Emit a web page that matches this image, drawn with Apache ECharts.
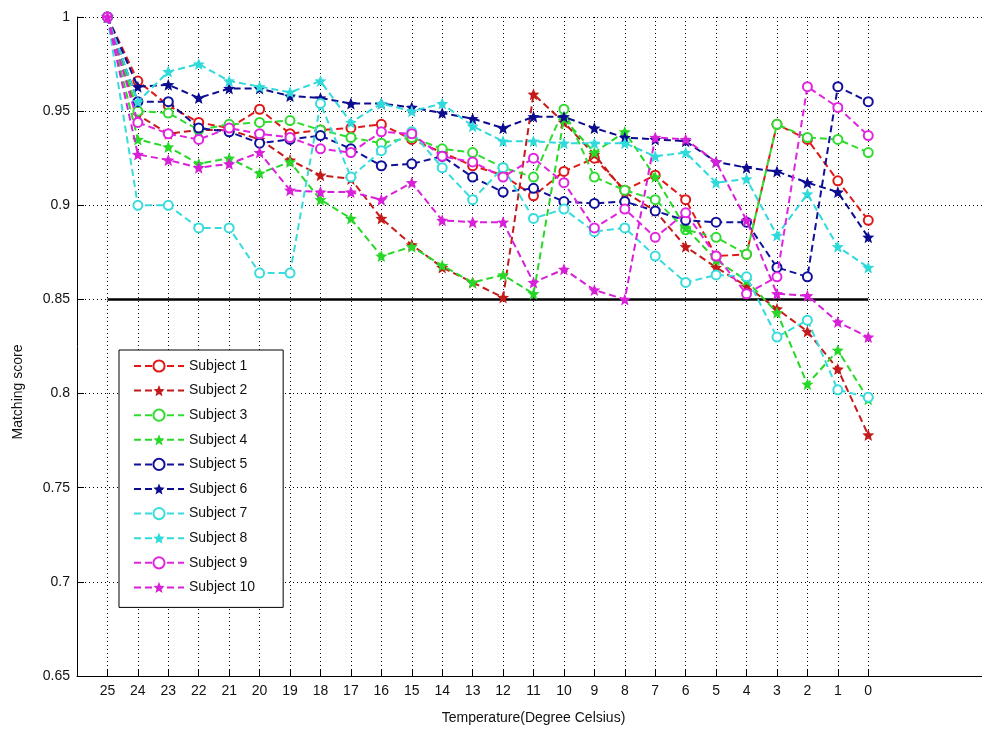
<!DOCTYPE html>
<html>
<head>
<meta charset="utf-8">
<script src="https://cdn.jsdelivr.net/npm/echarts@6/dist/echarts.min.js"></script>
<style>html,body{margin:0;padding:0;background:#fff}#c{width:982px;height:729px}</style>
</head>
<body>
<div id="c"></div>
<script>
// Temperatures (degree Celsius), plotted left to right
var temps = [25,24,23,22,21,20,19,18,17,16,15,14,13,12,11,10,9,8,7,6,5,4,3,2,1,0];
var yTicks = [0.65,0.7,0.75,0.8,0.85,0.9,0.95,1];
var threshold = 0.85;

var s1  = [1,0.966,0.953,0.944,0.941,0.951,0.938,0.940,0.941,0.943,0.935,0.928,0.921,0.916,0.905,0.918,0.925,0.908,0.916,0.903,0.873,0.874,0.943,0.935,0.913,0.892];
var s2  = [1,0.948,0.938,0.940,0.940,0.935,0.924,0.916,0.914,0.893,0.879,0.867,0.859,0.851,0.959,0.944,0.927,0.907,0.897,0.878,0.867,0.857,0.845,0.833,0.813,0.778];
var s3  = [1,0.950,0.949,0.940,0.943,0.944,0.945,0.940,0.936,0.933,0.936,0.930,0.928,0.920,0.915,0.951,0.915,0.908,0.903,0.887,0.883,0.874,0.943,0.936,0.935,0.928];
var s4  = [1,0.935,0.931,0.922,0.925,0.917,0.923,0.903,0.893,0.873,0.878,0.868,0.859,0.863,0.853,0.946,0.928,0.939,0.915,0.888,0.871,0.860,0.843,0.805,0.823,0.797];
var s5  = [1,0.955,0.955,0.941,0.939,0.933,0.935,0.937,0.930,0.921,0.922,0.926,0.915,0.907,0.909,0.902,0.901,0.902,0.897,0.892,0.891,0.891,0.867,0.862,0.963,0.955];
var s6  = [1,0.963,0.964,0.957,0.962,0.962,0.958,0.957,0.954,0.954,0.952,0.949,0.946,0.941,0.947,0.947,0.941,0.936,0.935,0.934,0.923,0.920,0.918,0.912,0.907,0.883];
var s7  = [1,0.900,0.900,0.888,0.888,0.864,0.864,0.954,0.915,0.929,0.939,0.920,0.903,0.920,0.893,0.898,0.886,0.888,0.873,0.859,0.863,0.862,0.830,0.839,0.802,0.798];
var s8  = [1,0.955,0.971,0.975,0.966,0.963,0.960,0.966,0.944,0.954,0.950,0.954,0.942,0.934,0.934,0.933,0.933,0.933,0.926,0.928,0.912,0.914,0.884,0.906,0.878,0.867];
var s9  = [1,0.944,0.938,0.935,0.941,0.938,0.936,0.930,0.928,0.939,0.938,0.926,0.923,0.915,0.925,0.912,0.888,0.898,0.883,0.896,0.873,0.853,0.862,0.963,0.952,0.937];
var s10 = [1,0.927,0.924,0.920,0.922,0.928,0.908,0.907,0.907,0.903,0.912,0.892,0.891,0.891,0.859,0.866,0.855,0.850,0.936,0.935,0.923,0.892,0.853,0.852,0.838,0.830];

var names = ['Subject 1','Subject 2','Subject 3','Subject 4','Subject 5','Subject 6','Subject 7','Subject 8','Subject 9','Subject 10'];
var values = [s1,s2,s3,s4,s5,s6,s7,s8,s9,s10];
var colors = ['#e01818','#c41a1a','#30dc30','#28d828','#10109a','#0c0c90','#38dcdc','#30dada','#e024e0','#d820d8'];
var markers = ['o','*','o','*','o','*','o','*','o','*'];

// category axis: one empty slot before 25 and four after 0
var cats = [''].concat(temps.map(String)).concat(['','','','']);
var starPath = 'path://M0,-10 L2.6,-3.6 L9.5,-3.1 L4.2,1.4 L5.9,8.1 L0,4.4 L-5.9,8.1 L-4.2,1.4 L-9.5,-3.1 L-2.6,-3.6 Z';
var FONT = 'Liberation Sans, Arial, sans-serif';
var hasLabel = function (i, v) { return v !== ''; };

var series = values.map(function (arr, k) {
  var isStar = markers[k] === '*';
  return {
    name: names[k],
    type: 'line',
    data: arr.map(function (v, i) { return [i + 1, v]; }),
    symbol: isStar ? starPath : 'emptyCircle',
    symbolSize: isStar ? 12 : 9,
    showAllSymbol: true,
    lineStyle: { color: colors[k], width: 2, type: [7, 4] },
    itemStyle: { color: colors[k], borderColor: colors[k], borderWidth: isStar ? 0 : 1.6 },
    emphasis: { disabled: true },
    animation: false,
    z: 2 + k
  };
});
series.push({
  name: 'threshold',
  type: 'line',
  data: [[1, threshold], [temps.length, threshold]],
  symbol: 'none',
  lineStyle: { color: '#000', width: 2.5, type: 'solid' },
  animation: false,
  z: 1
});

var chart = echarts.init(document.getElementById('c'), null, { renderer: 'canvas' });
chart.setOption({
  backgroundColor: '#fff',
  animation: false,
  grid: { left: 77, top: 17, right: -8, bottom: 53, outerBoundsMode: 'none', containLabel: false },
  legend: {
    data: names,
    orient: 'vertical',
    left: 119,
    top: 350,
    itemWidth: 50,
    itemHeight: 14,
    itemGap: 10.6,
    padding: [9, 28, 13, 14],
    backgroundColor: '#fff',
    borderColor: '#000',
    borderWidth: 1,
    borderRadius: 0,
    textStyle: { fontFamily: FONT, fontSize: 14, color: '#111' },
    z: 20
  },
  xAxis: {
    type: 'category',
    data: cats,
    boundaryGap: false,
    name: 'Temperature(Degree Celsius)',
    nameLocation: 'middle',
    nameGap: 35,
    nameTextStyle: { fontFamily: FONT, fontSize: 14, color: '#111' },
    axisLine: { lineStyle: { color: '#000', width: 1 } },
    axisTick: { inside: true, length: 7, interval: hasLabel, alignWithLabel: true, lineStyle: { color: '#000' } },
    axisLabel: { interval: hasLabel, margin: 8, fontFamily: FONT, fontSize: 14, color: '#111' },
    splitLine: { show: true, interval: hasLabel, lineStyle: { color: '#000', type: [1, 3], width: 1 } }
  },
  yAxis: {
    type: 'value',
    min: 0.65,
    max: 1,
    interval: 0.05,
    axisLine: { show: true, lineStyle: { color: '#000', width: 1 } },
    axisTick: { show: true, inside: true, length: 7, lineStyle: { color: '#000' } },
    axisLabel: {
      margin: 7, fontFamily: FONT, fontSize: 14, color: '#111',
      formatter: function (v) { return String(+v.toFixed(2)); }
    },
    splitLine: { show: true, lineStyle: { color: '#000', type: [1, 3], width: 1 } }
  },
  graphic: [{
    type: 'text',
    x: 18, y: 392,
    rotation: Math.PI / 2,
    style: { text: 'Matching score', font: '14px ' + FONT, fill: '#111', textAlign: 'center', textVerticalAlign: 'middle' }
  }],
  series: series
});
</script>
</body>
</html>
